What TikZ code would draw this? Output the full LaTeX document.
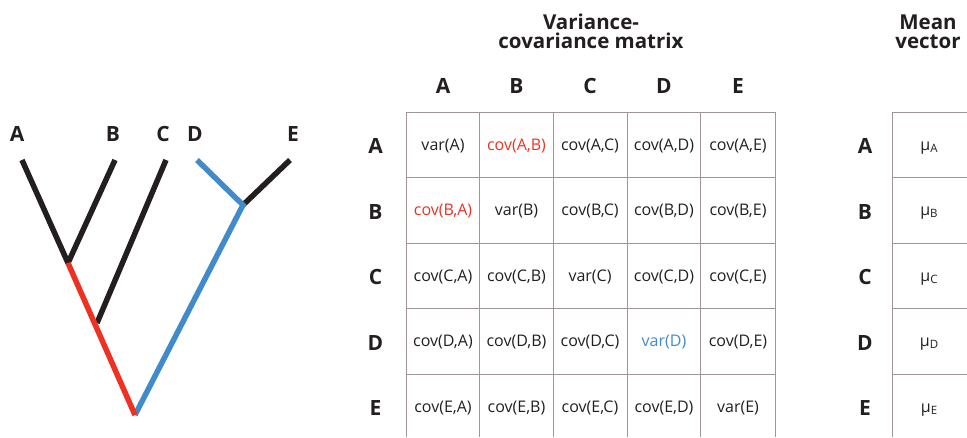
\documentclass[tikz,border=0pt]{standalone}
\usepackage{fontspec}
\setmainfont{Open Sans}
\definecolor{treeblack}{RGB}{35,31,32}
\definecolor{treered}{RGB}{237,50,36}
\definecolor{treeblue}{RGB}{66,139,202}
\definecolor{gridline}{RGB}{160,150,150}
\tikzset{
  branch/.style={line width=5.5pt},
  taxon/.style={anchor=base,inner sep=0pt,font=\fontsize{21}{24}\selectfont\bfseries,text=treeblack},
  title/.style={anchor=base,inner sep=0pt,align=center,font=\fontsize{20.5}{19}\selectfont\bfseries,text=treeblack},
  cell/.style={anchor=base,inner sep=0pt,font=\fontsize{16}{19}\selectfont,text=treeblack},
  grid/.style={draw=gridline,line width=0.9pt},
}
\newcommand{\mvsub}[1]{\textmu\raisebox{-2pt}{\fontsize{11.5}{13}\selectfont #1}}
\begin{document}
\begin{tikzpicture}[x=1pt,y=-1pt]
\useasboundingbox (0,0) rectangle (967,437);

% ---------- tree ----------
\coordinate (tA) at (22,160);
\coordinate (tB) at (115,160);
\coordinate (tC) at (166,160);
\coordinate (tD) at (197,160);
\coordinate (tE) at (290,160);
\coordinate (nAB) at (68,263);
\coordinate (nC) at (97,323);
\coordinate (nDE) at (243,205);
\coordinate (root) at (135,415);

\draw[branch,treeblack] (tA) -- (nAB);
\draw[branch,treeblack] (tB) -- (nAB);
\draw[branch,treeblack] (tC) -- (nC);
\draw[branch,treeblack] (tE) -- (nDE);
\draw[branch,treeblue] (tD) -- (nDE) -- (root);
\draw[branch,treered] (nAB) -- (root);

\node[taxon] (lA) at (17,141) {A};
\node[taxon] (lB) at (113,141) {B};
\node[taxon] (lC) at (163,141) {C};
\node[taxon] (lD) at (195,141) {D};
\node[taxon] (lE) at (293,141) {E};

% ---------- titles ----------
\node[title] (tvc) at (591,48) {Variance-\\covariance matrix};
\node[title] (tmv) at (928,48) {Mean\\vector};

% ---------- matrix grid ----------
\foreach \x in {406,479.7,553.3,627,700.7,775}
  \draw[grid] (\x,112) -- (\x,437);
\foreach \y in {112,177.5,243,308.5,374}
  \draw[grid] (406,\y) -- (775,\y);

% column headers
\node[taxon] (hA) at (443,93) {A};
\node[taxon] (hB) at (516.5,93) {B};
\node[taxon] (hC) at (590,93) {C};
\node[taxon] (hD) at (664,93) {D};
\node[taxon] (hE) at (738,93) {E};

% row headers
\node[taxon] (rA) at (375.5,153) {A};
\node[taxon] (rB) at (375.5,219) {B};
\node[taxon] (rC) at (375.5,284) {C};
\node[taxon] (rD) at (375.5,350) {D};
\node[taxon] (rE) at (375.5,415) {E};

% cells
\node[cell] (cAA) at (443,150) {var(A)};
\node[cell,text=treered] (cAB) at (516.5,150) {cov(A,B)};
\node[cell] (cAC) at (590,150) {cov(A,C)};
\node[cell] (cAD) at (664,150) {cov(A,D)};
\node[cell] (cAE) at (738,150) {cov(A,E)};

\node[cell,text=treered] (cBA) at (443,215.5) {cov(B,A)};
\node[cell] (cBB) at (516.5,215.5) {var(B)};
\node[cell] (cBC) at (590,215.5) {cov(B,C)};
\node[cell] (cBD) at (664,215.5) {cov(B,D)};
\node[cell] (cBE) at (738,215.5) {cov(B,E)};

\node[cell] (cCA) at (443,281) {cov(C,A)};
\node[cell] (cCB) at (516.5,281) {cov(C,B)};
\node[cell] (cCC) at (590,281) {var(C)};
\node[cell] (cCD) at (664,281) {cov(C,D)};
\node[cell] (cCE) at (738,281) {cov(C,E)};

\node[cell] (cDA) at (443,346.5) {cov(D,A)};
\node[cell] (cDB) at (516.5,346.5) {cov(D,B)};
\node[cell] (cDC) at (590,346.5) {cov(D,C)};
\node[cell,text=treeblue] (cDD) at (664,346.5) {var(D)};
\node[cell] (cDE) at (738,346.5) {cov(D,E)};

\node[cell] (cEA) at (443,412) {cov(E,A)};
\node[cell] (cEB) at (516.5,412) {cov(E,B)};
\node[cell] (cEC) at (590,412) {cov(E,C)};
\node[cell] (cED) at (664,412) {cov(E,D)};
\node[cell] (cEE) at (738,412) {var(E)};

% ---------- mean vector ----------
\draw[grid] (892,112) -- (892,437);
\foreach \y in {112,177.5,243,308.5,374}
  \draw[grid] (892,\y) -- (967,\y);

\node[taxon] (mA) at (865,153) {A};
\node[taxon] (mB) at (865,219) {B};
\node[taxon] (mC) at (865,284) {C};
\node[taxon] (mD) at (865,350) {D};
\node[taxon] (mE) at (865,415) {E};

\node[cell] (vA) at (929,150) {\mvsub{A}};
\node[cell] (vB) at (929,215.5) {\mvsub{B}};
\node[cell] (vC) at (929,281) {\mvsub{C}};
\node[cell] (vD) at (929,346.5) {\mvsub{D}};
\node[cell] (vE) at (929,412) {\mvsub{E}};
\end{tikzpicture}
\end{document}
